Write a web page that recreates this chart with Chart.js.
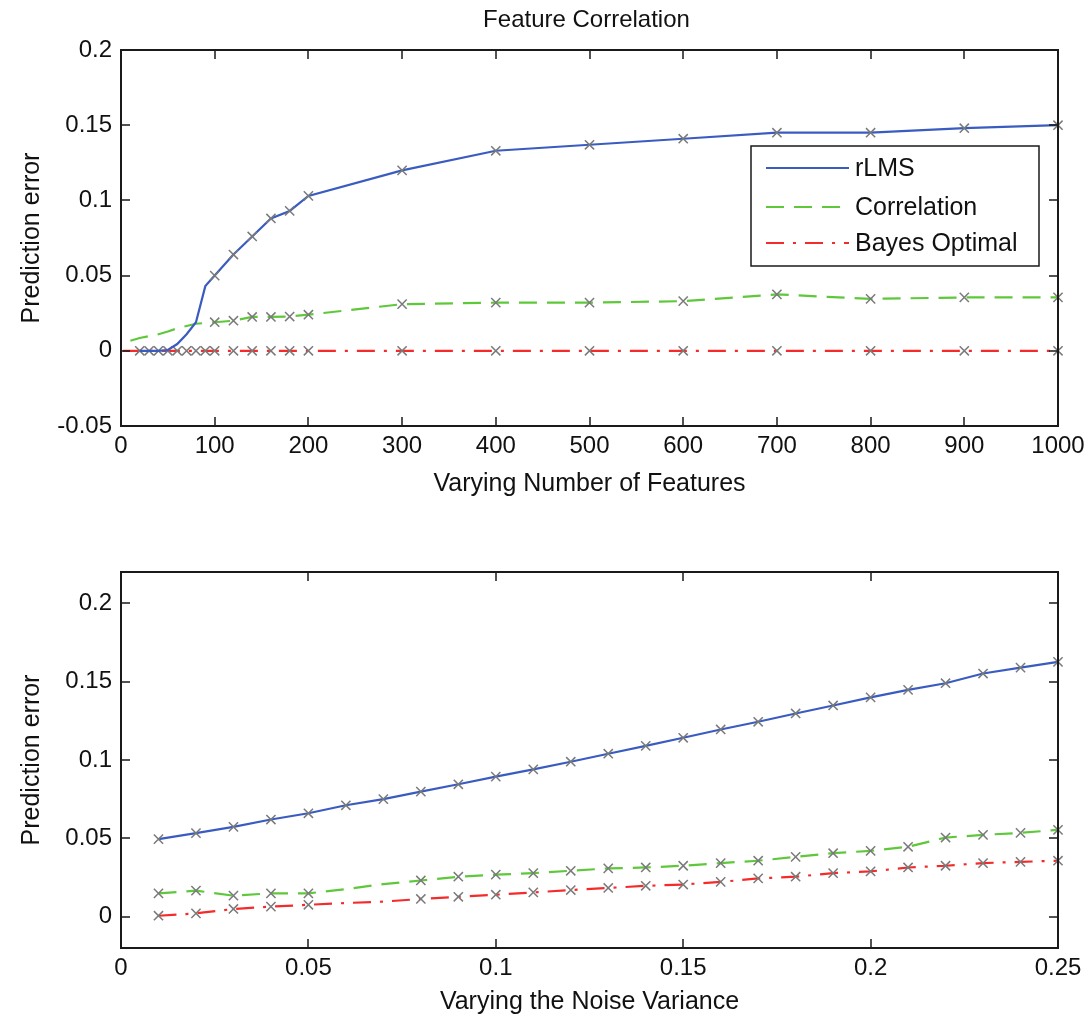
<!DOCTYPE html>
<html>
<head>
<meta charset="utf-8">
<script src="https://cdn.jsdelivr.net/npm/chart.js@4.4.1/dist/chart.umd.min.js"></script>
<style>
  html, body { margin: 0; padding: 0; background: #fff; }
  #wrap { position: relative; width: 1086px; height: 1021px; }
  canvas { position: absolute; left: 0; }
  #chart-features { top: 0; }
  #chart-noise { top: 500px; }
</style>
</head>
<body>
<div id="wrap">
  <canvas id="chart-features" width="1086" height="500"></canvas>
  <canvas id="chart-noise" width="1086" height="521"></canvas>
</div>
<script>
// --- top panel: error vs number of features ---
const featureCounts = [10, 20, 30, 40, 50, 60, 70, 80, 90, 100, 120, 140, 160, 180, 200, 300, 400, 500, 600, 700, 800, 900, 1000];
const rlmsByFeatures = [null, 0, 0, 0, 0.0005, 0.0045, 0.011, 0.019, 0.043, 0.05, 0.064, 0.076, 0.088, 0.093, 0.103, 0.12, 0.133, 0.137, 0.141, 0.145, 0.145, 0.148, 0.15];
const corrByFeatures = [0.0067, 0.0085, 0.0098, 0.011, 0.0128, 0.015, 0.0165, 0.018, 0.0185, 0.019, 0.02, 0.0225, 0.0225, 0.0228, 0.024, 0.031, 0.032, 0.032, 0.033, 0.0375, 0.0345, 0.0355, 0.0355];
const bayesFeatureCounts = [2, 20, 30, 40, 50, 60, 70, 80, 90, 100, 120, 140, 160, 180, 200, 300, 400, 500, 600, 700, 800, 900, 1000];
const bayesByFeatures = [0, 0, 0, 0, 0, 0, 0, 0, 0, 0, 0, 0, 0, 0, 0, 0, 0, 0, 0, 0, 0, 0, 0];
const featureTicksX = [0, 100, 200, 300, 400, 500, 600, 700, 800, 900, 1000];
const featureTicksY = [-0.05, 0, 0.05, 0.1, 0.15, 0.2];

// --- bottom panel: error vs noise variance ---
const noiseVariance = [0.01, 0.02, 0.03, 0.04, 0.05, 0.06, 0.07, 0.08, 0.09, 0.1, 0.11, 0.12, 0.13, 0.14, 0.15, 0.16, 0.17, 0.18, 0.19, 0.2, 0.21, 0.22, 0.23, 0.24, 0.25];
const rlmsByNoise = [0.0495, 0.0533, 0.0573, 0.062, 0.066, 0.0711, 0.075, 0.0798, 0.0845, 0.0894, 0.094, 0.0989, 0.104, 0.109, 0.1142, 0.1195, 0.1244, 0.1297, 0.1348, 0.14, 0.1448, 0.149, 0.1552, 0.159, 0.1626];
const corrByNoise = [0.0149, 0.0166, 0.0134, 0.0149, 0.0149, 0.0176, 0.0208, 0.0231, 0.0255, 0.0268, 0.0278, 0.0293, 0.0308, 0.0314, 0.0325, 0.0342, 0.0357, 0.0382, 0.0405, 0.042, 0.0446, 0.0505, 0.0522, 0.0535, 0.0554];
const bayesByNoise = [0.0006, 0.0021, 0.0049, 0.0064, 0.0076, 0.0087, 0.0096, 0.0113, 0.0127, 0.014, 0.0155, 0.017, 0.0183, 0.0197, 0.0205, 0.0222, 0.0244, 0.0255, 0.0278, 0.0289, 0.0314, 0.0325, 0.0342, 0.035, 0.0357];
const noiseTicksX = [0, 0.05, 0.1, 0.15, 0.2, 0.25];
const noiseTicksY = [0, 0.05, 0.1, 0.15, 0.2];
const unmarkedNoise = [0.06, 0.07];

const FONT = 'Liberation Sans, Arial, sans-serif';
const MARK = 6.5;

const styles = {
  rLMS: { borderColor: '#3a5cc0', borderDash: [] },
  Correlation: { borderColor: '#5ec83a', borderDash: [18, 10] },
  'Bayes Optimal': { borderColor: '#f52a2a', borderDash: [18, 9, 3, 9] },
};

const zip = (xs, ys) => xs.map((x, i) => ({ x, y: ys[i] }));
const fmt = v => String(+Number(v).toFixed(3));

function series(label, data, radius) {
  return {
    label, data,
    ...styles[label],
    borderWidth: 2.2,
    tension: 0,
    spanGaps: false,
    clip: 10,
    pointStyle: 'crossRot',
    pointRadius: radius,
    pointBorderColor: '#7a7a7a',
    pointBackgroundColor: 'rgba(0,0,0,0)',
    pointBorderWidth: 1.5,
  };
}

// matlab-like box with inward ticks on all four sides
const boxAxes = {
  id: 'boxAxes',
  afterDraw(chart) {
    const { ctx, chartArea: a, scales } = chart;
    ctx.save();
    ctx.strokeStyle = '#1a1a1a';
    ctx.lineWidth = 1.5;
    ctx.beginPath();
    scales.x.ticks.forEach(t => {
      const px = Math.round(scales.x.getPixelForValue(t.value));
      ctx.moveTo(px, a.bottom); ctx.lineTo(px, a.bottom - 9);
      ctx.moveTo(px, a.top); ctx.lineTo(px, a.top + 9);
    });
    scales.y.ticks.forEach(t => {
      const py = Math.round(scales.y.getPixelForValue(t.value));
      ctx.moveTo(a.left, py); ctx.lineTo(a.left + 9, py);
      ctx.moveTo(a.right, py); ctx.lineTo(a.right - 9, py);
    });
    ctx.stroke();
    ctx.lineWidth = 2;
    ctx.strokeRect(a.left, a.top, a.right - a.left, a.bottom - a.top);
    ctx.restore();
  },
};

// legend box inside the top axes, upper right
const insetLegend = {
  id: 'insetLegend',
  afterDatasetsDraw(chart) {
    const { ctx } = chart;
    const x0 = 751, y0 = 146, w = 288, h = 120;
    ctx.save();
    ctx.fillStyle = '#fff';
    ctx.fillRect(x0, y0, w, h);
    ctx.strokeStyle = '#1a1a1a';
    ctx.lineWidth = 1.5;
    ctx.strokeRect(x0, y0, w, h);
    const rows = [168, 207, 243];
    chart.data.datasets.forEach((ds, i) => {
      const y = rows[i];
      ctx.strokeStyle = ds.borderColor;
      ctx.lineWidth = 2.2;
      ctx.setLineDash(ds.borderDash || []);
      ctx.beginPath();
      ctx.moveTo(766, y); ctx.lineTo(849, y);
      ctx.stroke();
      ctx.setLineDash([]);
      ctx.fillStyle = '#111';
      ctx.font = `25px ${FONT}`;
      ctx.textBaseline = 'middle';
      ctx.textAlign = 'left';
      ctx.fillText(ds.label, 855, y + 1);
    });
    ctx.restore();
  },
};

const plotTitle = {
  id: 'plotTitle',
  afterDraw(chart) {
    const { ctx, chartArea: a } = chart;
    ctx.save();
    ctx.fillStyle = '#111';
    ctx.font = `24px ${FONT}`;
    ctx.textAlign = 'center';
    ctx.textBaseline = 'middle';
    ctx.fillText('Feature Correlation', (a.left + a.right) / 2 - 3, 20);
    ctx.restore();
  },
};

function axes({ xMin, xMax, yMin, yMax, xTicks, yTicks, xTitle, xHeight, titleGap }) {
  const tickFont = { family: FONT, size: 24 };
  const titleFont = { family: FONT, size: 25 };
  return {
    x: {
      type: 'linear', min: xMin, max: xMax,
      grid: { display: false, drawTicks: false },
      border: { display: false },
      afterBuildTicks: s => { s.ticks = xTicks.map(value => ({ value })); },
      // fixed band height; let the end labels hang over the side margins
      afterFit: s => { s.height = xHeight; s.paddingLeft = 0; s.paddingRight = 0; },
      ticks: { color: '#111', font: tickFont, padding: 6, maxRotation: 0, autoSkip: false, callback: fmt },
      title: { display: true, text: xTitle, color: '#111', font: titleFont, padding: { bottom: titleGap } },
    },
    y: {
      type: 'linear', min: yMin, max: yMax,
      grid: { display: false, drawTicks: false },
      border: { display: false },
      afterBuildTicks: s => { s.ticks = yTicks.map(value => ({ value })); },
      afterFit: s => { s.width = 121; s.paddingTop = 0; s.paddingBottom = 0; },
      ticks: { color: '#111', font: tickFont, padding: 9, autoSkip: false, callback: fmt },
      title: { display: true, text: 'Prediction error', color: '#111', font: titleFont, padding: { top: 17 } },
    },
  };
}

const baseOptions = {
  responsive: false,
  animation: false,
  events: [],
  plugins: { legend: { display: false }, tooltip: { enabled: false } },
};

const topMarker = c => {
  const first = c.dataset.label === 'Bayes Optimal' ? 20 : 100;
  return c.raw && c.raw.x >= first ? MARK : 0;
};
const noiseMarker = c => {
  if (c.dataset.label !== 'rLMS' && c.raw && unmarkedNoise.includes(c.raw.x)) return 0;
  return MARK;
};

new Chart(document.getElementById('chart-features'), {
  type: 'line',
  data: {
    datasets: [
      series('rLMS', zip(featureCounts, rlmsByFeatures), topMarker),
      series('Correlation', zip(featureCounts, corrByFeatures), topMarker),
      series('Bayes Optimal', zip(bayesFeatureCounts, bayesByFeatures), topMarker),
    ],
  },
  options: {
    ...baseOptions,
    layout: { padding: { top: 50, right: 28, left: 0, bottom: 0 } },
    scales: axes({
      xMin: 0, xMax: 1000, yMin: -0.05, yMax: 0.2,
      xTicks: featureTicksX, yTicks: featureTicksY,
      xTitle: 'Varying Number of Features', xHeight: 74, titleGap: 1,
    }),
  },
  plugins: [boxAxes, insetLegend, plotTitle],
});

new Chart(document.getElementById('chart-noise'), {
  type: 'line',
  data: {
    datasets: [
      series('rLMS', zip(noiseVariance, rlmsByNoise), noiseMarker),
      series('Correlation', zip(noiseVariance, corrByNoise), noiseMarker),
      series('Bayes Optimal', zip(noiseVariance, bayesByNoise), noiseMarker),
    ],
  },
  options: {
    ...baseOptions,
    layout: { padding: { top: 72, right: 28, left: 0, bottom: 0 } },
    scales: axes({
      xMin: 0, xMax: 0.25, yMin: -0.02, yMax: 0.22,
      xTicks: noiseTicksX, yTicks: noiseTicksY,
      xTitle: 'Varying the Noise Variance', xHeight: 73, titleGap: 4,
    }),
  },
  plugins: [boxAxes],
});
</script>
</body>
</html>
